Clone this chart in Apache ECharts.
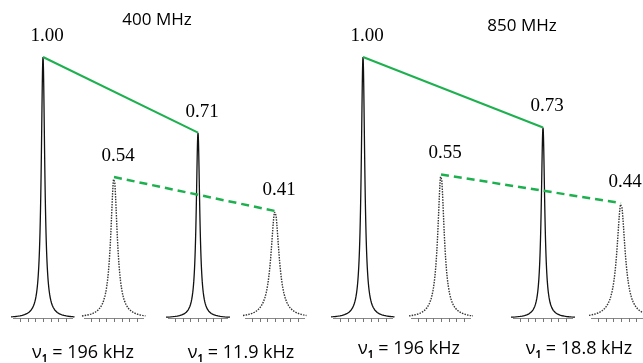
<!DOCTYPE html>
<html>
<head>
<meta charset="utf-8">
<script src="https://cdn.jsdelivr.net/npm/echarts@6/dist/echarts.min.js"></script>
<style>
html,body{margin:0;padding:0;background:#fff;}
#c{width:643px;height:363px;}
</style>
</head>
<body>
<div id="c"></div>
<script>
// ---- data ----
const panelTitles = ['400 MHz', '850 MHz'];
const rfFields = [['196 kHz', '11.9 kHz'], ['196 kHz', '18.8 kHz']];
// peak positions (layout units along the shared horizontal axis)
const solidCenters = [[43, 198], [363, 543]];
const dottedCenters = [[114, 275], [441, 621]];
// normalised peak intensities
const solidHeights = [[1.00, 0.71], [1.00, 0.73]];
const dottedHeights = [[0.54, 0.41], [0.55, 0.44]];
// Lorentzian half-widths
const solidWidths = [[2.1, 2.1], [2.1, 2.1]];
const dottedWidths = [[3.9, 4.9], [3.9, 4.9]];
const spectrumHalfSpan = 32;
const tickOffsets = [-23, -15.4, -7.7, 0, 7.7, 15.4, 23];

// ---- build ----
function lorentz(c, h, g) {
  const pts = [];
  for (let k = -spectrumHalfSpan * 4; k <= spectrumHalfSpan * 4; k++) {
    const d = k / 4;
    pts.push([c + d, h / (1 + (d / g) * (d / g))]);
  }
  return pts;
}
const GREEN = '#1db04e';
const series = [];
const axisData = [];
const labelData = [];
for (let p = 0; p < 2; p++) {
  for (let i = 0; i < 2; i++) {
    series.push({
      type: 'line', data: lorentz(solidCenters[p][i], solidHeights[p][i], solidWidths[p][i]),
      showSymbol: false, silent: true, z: 3,
      lineStyle: {color: '#111', width: 1.3}
    });
    series.push({
      type: 'line', data: lorentz(dottedCenters[p][i], dottedHeights[p][i], dottedWidths[p][i]),
      showSymbol: false, silent: true, z: 3,
      lineStyle: {color: '#333', width: 1.4, type: [1.5, 1.2]}
    });
    axisData.push([solidCenters[p][i]]);
    axisData.push([dottedCenters[p][i]]);
    labelData.push([solidCenters[p][i], solidHeights[p][i]]);
    labelData.push([dottedCenters[p][i], dottedHeights[p][i]]);
  }
  series.push({
    type: 'line', z: 5, silent: true,
    data: solidCenters[p].map((c, i) => [c, solidHeights[p][i]]),
    showSymbol: false,
    lineStyle: {color: GREEN, width: 2}
  });
  series.push({
    type: 'line', z: 5, silent: true,
    data: dottedCenters[p].map((c, i) => [c, dottedHeights[p][i]]),
    showSymbol: false,
    lineStyle: {color: GREEN, width: 2.5, type: [8, 5]}
  });
}
series.push({
  type: 'scatter', z: 6, silent: true, data: labelData,
  symbolSize: 1, itemStyle: {color: 'rgba(0,0,0,0)', opacity: 1},
  label: {
    show: true, position: 'top', distance: 11, offset: [4, 0],
    formatter: (v) => v.value[1].toFixed(2),
    fontFamily: '"Liberation Serif", serif', fontSize: 19, color: '#000', opacity: 1
  }
});
series.push({
  type: 'custom', z: 2, silent: true, data: axisData,
  renderItem: function (params, api) {
    const c = api.value(0);
    const a = api.coord([c - spectrumHalfSpan + 2, 0]);
    const b = api.coord([c + spectrumHalfSpan - 2, 0]);
    const children = [{
      type: 'line', shape: {x1: a[0], y1: a[1] + 0.5, x2: b[0], y2: b[1] + 0.5},
      style: {stroke: '#888', lineWidth: 1}
    }];
    tickOffsets.forEach(o => {
      const t = api.coord([c + o, 0]);
      children.push({
        type: 'line', shape: {x1: Math.round(t[0]) + 0.5, y1: t[1], x2: Math.round(t[0]) + 0.5, y2: t[1] + 4},
        style: {stroke: '#777', lineWidth: 1}
      });
    });
    return {type: 'group', children: children};
  }
});

const titlePos = [[157, 20], [522, 26]];
const rfPos = [[[83, 353], [241, 353]], [[409, 349], [579, 349]]];
const graphic = [];
for (let p = 0; p < 2; p++) {
  graphic.push({
    type: 'text', x: titlePos[p][0], y: titlePos[p][1],
    style: {text: panelTitles[p], font: '17px "Open Sans"', fill: '#000', align: 'center', verticalAlign: 'middle'}
  });
  for (let i = 0; i < 2; i++) {
    graphic.push({
      type: 'text', x: rfPos[p][i][0], y: rfPos[p][i][1],
      style: {
        text: '{a|ν}{s|1}{a| = ' + rfFields[p][i] + '}',
        align: 'center', verticalAlign: 'middle',
        rich: {
          a: {fontFamily: '"Open Sans"', fontSize: 18, color: '#000', lineHeight: 22, verticalAlign: 'middle'},
          s: {fontFamily: '"Open Sans"', fontSize: 10, fontWeight: 'bold', color: '#000', lineHeight: 22, verticalAlign: 'bottom'}
        }
      }
    });
  }
}

const chart = echarts.init(document.getElementById('c'));
chart.setOption({
  animation: false,
  backgroundColor: '#fff',
  grid: {left: 0, right: 0, top: 57, bottom: 45},
  xAxis: {type: 'value', min: 0, max: 643, show: false},
  yAxis: {type: 'value', min: 0, max: 1, show: false},
  series: series,
  graphic: graphic
});
</script>
</body>
</html>
